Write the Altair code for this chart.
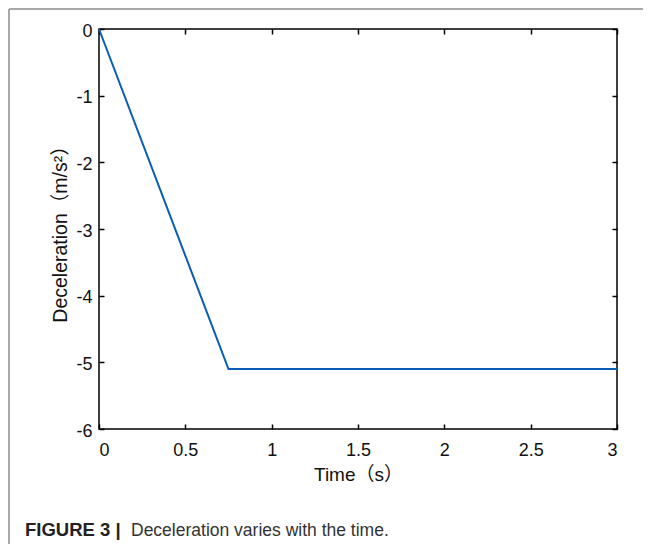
import altair as alt
import pandas as pd

# ---- data ----
time_s = [0, 0.75, 3]
decel = [0, -5.1, -5.1]
x_ticks = [0, 0.5, 1, 1.5, 2, 2.5, 3]
y_ticks = [0, -1, -2, -3, -4, -5, -6]
x_title = "Time（s）"
y_title = "Deceleration（m/s²）"
caption_bold = "FIGURE 3 |"
caption_text = "Deceleration varies with the time."

df = pd.DataFrame({"time": time_s, "decel": decel})
one = pd.DataFrame({"k": [0]})

FONT = "Liberation Sans, Arial, Noto Sans CJK SC, sans-serif"
TXT = "#111111"

xscale = alt.Scale(domain=[0, 3], nice=False, zero=False)
yscale = alt.Scale(domain=[-6, 0], nice=False)

common = dict(grid=False, domain=False, tickSize=5, tickWidth=1.5,
              tickColor="black", offset=-5)

line = alt.Chart(df).mark_line(color="#0a5cb5", strokeWidth=2).encode(
    x=alt.X("time:Q", scale=xscale,
            axis=alt.Axis(orient="bottom", values=x_ticks,
                          labelExpr="'' + datum.value",
                          labelFont=FONT, labelFontSize=18, labelColor=TXT,
                          labelPadding=12, title=x_title, titleFont=FONT,
                          titleFontSize=19, titleFontWeight="normal",
                          titleColor=TXT, titlePadding=6, **common)),
    y=alt.Y("decel:Q", scale=yscale,
            axis=alt.Axis(orient="left", values=y_ticks,
                          labelExpr="'' + datum.value",
                          labelFont=FONT, labelFontSize=18, labelColor=TXT,
                          labelPadding=7, labelOffset=2, title=y_title,
                          titleFont=FONT, titleFontSize=19.5,
                          titleFontWeight="normal", titleColor=TXT,
                          titlePadding=5, **common)),
)

mirror = alt.Chart(df).mark_line(opacity=0).encode(
    x=alt.X("time:Q", scale=xscale,
            axis=alt.Axis(orient="top", values=x_ticks, labels=False,
                          title="", **common)),
    y=alt.Y("decel:Q", scale=yscale,
            axis=alt.Axis(orient="right", values=y_ticks, labels=False,
                          title="", **common)),
)

frame_top = alt.Chart(one).mark_rule(color="#8c8c8c", strokeWidth=1.5).encode(
    x=alt.value(-90), x2=alt.value(544), y=alt.value(-20))
frame_left = alt.Chart(one).mark_rule(color="#8c8c8c", strokeWidth=1.5).encode(
    x=alt.value(-90), y=alt.value(-20), y2=alt.value(515))

cap1 = alt.Chart(one).mark_text(text=caption_bold, align="left",
                                baseline="alphabetic", font=FONT,
                                fontSize=18.5, fontWeight="bold",
                                color="#222222").encode(
    x=alt.value(-74), y=alt.value(507))
cap2 = alt.Chart(one).mark_text(text=caption_text, align="left",
                                baseline="alphabetic", font=FONT,
                                fontSize=17.5, color="#333333").encode(
    x=alt.value(32), y=alt.value(507))

chart = alt.layer(line, mirror, frame_top, frame_left, cap1, cap2).resolve_axis(
    x="independent", y="independent"
).properties(
    width=518, height=400,
    autosize=alt.AutoSizeParams(type="none"),
    padding={"left": 91, "top": 21, "right": 26, "bottom": 115},
).configure_view(stroke="black", strokeWidth=1.5)

chart.save("out.html", embed_options={"renderer": "svg", "actions": False})
